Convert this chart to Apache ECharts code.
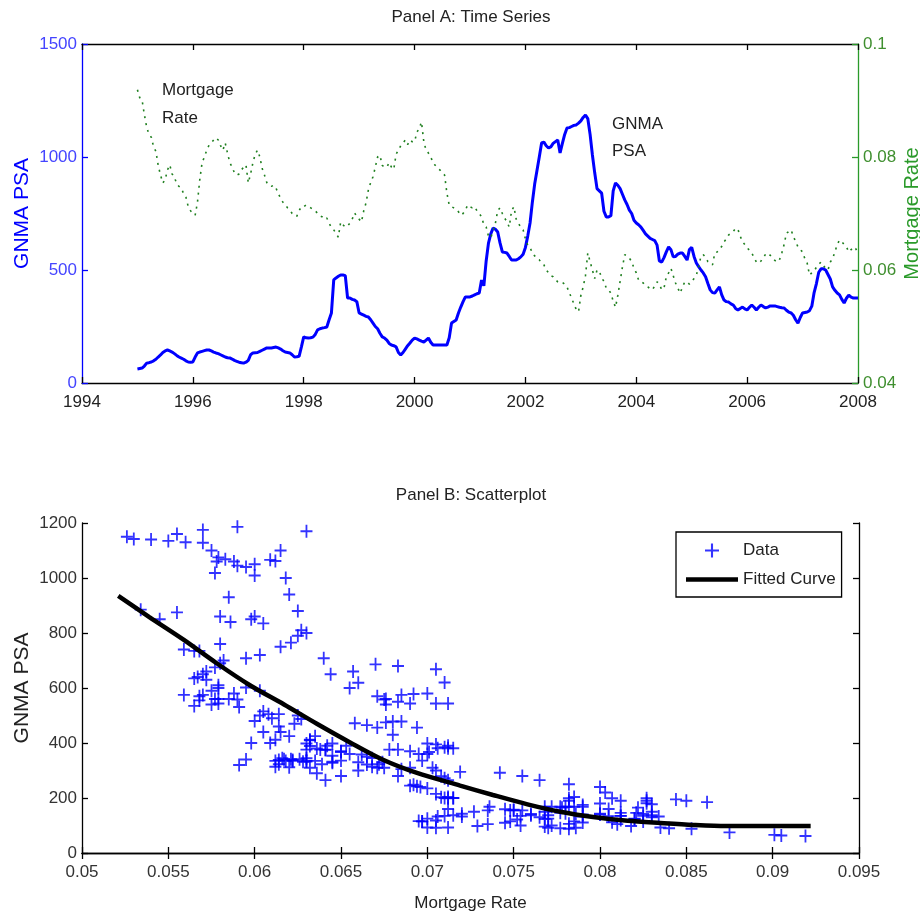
<!DOCTYPE html>
<html>
<head>
<meta charset="utf-8">
<script src="https://cdn.jsdelivr.net/npm/echarts@6/dist/echarts.min.js"></script>
<style>
  html, body { margin: 0; background: #fff; }
  #chart { width: 920px; height: 915px; }
</style>
</head>
<body>
<div id="chart"></div>
<script>
// half-monthly observations, Jan 1995 .. Jan 2008
const startYear = 1995;
const stepYears = 1 / 24;
const psa = [
  62, 64, 66, 75, 88, 90, 93, 98, 105, 115, 124, 135, 142, 146, 142, 137, 130, 122, 115, 110, 105, 98, 93, 92,
  93, 115, 133, 137, 140, 143, 146, 146, 142, 137, 133, 130, 125, 120, 115, 112, 111, 106, 100, 96, 92, 90, 88, 92,
  100, 125, 133, 134, 135, 140, 145, 150, 155, 155, 155, 157, 159, 155, 150, 143, 137, 135, 133, 125, 115, 116, 118, 160,
  204, 200, 199, 200, 203, 215, 235, 240, 243, 245, 248, 280, 310, 456, 465, 472, 478, 478, 475, 376, 376, 370, 367, 360,
  310, 305, 300, 295, 292, 280, 265, 250, 240, 220, 204, 199, 190, 175, 168, 165, 160, 135, 124, 135, 150, 165, 177, 190,
  199, 195, 190, 185, 181, 190, 199, 180, 168, 168, 168, 168, 168, 168, 168, 200, 265, 272, 279, 310, 336, 360, 381, 381,
  381, 385, 390, 395, 398, 456, 430, 540, 619, 660, 686, 680, 668, 620, 580, 578, 575, 560, 544, 544, 544, 550, 558, 570,
  600, 650, 708, 800, 880, 940, 1000, 1062, 1066, 1050, 1040, 1045, 1060, 1068, 1075, 1018, 1060, 1100, 1128, 1130, 1135, 1140, 1142, 1150,
  1160, 1175, 1186, 1170, 1100, 1009, 930, 860, 850, 840, 760, 735, 735, 740, 850, 885, 875, 860, 835, 810, 790, 765, 750, 720,
  708, 700, 690, 675, 660, 650, 640, 635, 630, 610, 540, 535, 555, 580, 602, 590, 558, 560, 570, 575, 575, 560, 544, 590,
  600, 560, 531, 515, 500, 487, 470, 440, 412, 400, 398, 412, 425, 390, 367, 360, 358, 350, 345, 330, 323, 330, 336, 328,
  323, 335, 345, 335, 323, 335, 345, 338, 332, 336, 341, 341, 341, 338, 335, 333, 332, 322, 314, 310, 300, 280, 265, 290,
  310, 312, 314, 320, 340, 400, 440, 490, 505, 505, 500, 480, 460, 425, 410, 398, 390, 370, 354, 375, 389, 380, 376, 376,
  376
];
const rate = [
  0.0919, 0.0905, 0.0901, 0.0875, 0.0853, 0.0840, 0.0835, 0.0818, 0.0810, 0.0785, 0.0768, 0.0754,
  0.0760, 0.0777, 0.0786, 0.0770, 0.0765, 0.0752, 0.0748, 0.0745, 0.0735, 0.0729, 0.0712, 0.0705,
  0.0700, 0.0697, 0.0720, 0.0760, 0.0790, 0.0800, 0.0812, 0.0821, 0.0825, 0.0830, 0.0834, 0.0830,
  0.0820, 0.0812, 0.0825, 0.0807, 0.0790, 0.0782, 0.0772, 0.0768, 0.0770, 0.0777, 0.0782, 0.0786,
  0.0754, 0.0770, 0.0790, 0.0805, 0.0812, 0.0800, 0.0780, 0.0768, 0.0755, 0.0750, 0.0748, 0.0750,
  0.0745, 0.0735, 0.0727, 0.0720, 0.0715, 0.0710, 0.0706, 0.0700, 0.0697, 0.0695, 0.0705, 0.0712,
  0.0712, 0.0715, 0.0712, 0.0710, 0.0708, 0.0705, 0.0700, 0.0696, 0.0694, 0.0690, 0.0692, 0.0683,
  0.0675, 0.0671, 0.0665, 0.0658, 0.0685, 0.0680, 0.0676, 0.0678, 0.0683, 0.0690, 0.0701, 0.0695,
  0.0690, 0.0685, 0.0705, 0.0719, 0.0742, 0.0755, 0.0765, 0.0782, 0.0800, 0.0803, 0.0785, 0.0782,
  0.0782, 0.0790, 0.0782, 0.0778, 0.0805, 0.0812, 0.0820, 0.0825, 0.0830, 0.0822, 0.0830, 0.0827,
  0.0827, 0.0844, 0.0850, 0.0862, 0.0827, 0.0812, 0.0807, 0.0800, 0.0790, 0.0785, 0.0780, 0.0777,
  0.0772, 0.0768, 0.0736, 0.0715, 0.0712, 0.0710, 0.0708, 0.0703, 0.0697, 0.0700, 0.0706, 0.0715,
  0.0712, 0.0710, 0.0712, 0.0705, 0.0700, 0.0694, 0.0680, 0.0676, 0.0660, 0.0657, 0.0670, 0.0683,
  0.0705, 0.0710, 0.0700, 0.0692, 0.0685, 0.0676, 0.0705, 0.0712, 0.0690, 0.0683, 0.0675, 0.0671,
  0.0655, 0.0644, 0.0640, 0.0630, 0.0625, 0.0620, 0.0618, 0.0612, 0.0609, 0.0600, 0.0595, 0.0590,
  0.0588, 0.0583, 0.0579, 0.0577, 0.0578, 0.0575, 0.0570, 0.0560, 0.0550, 0.0540, 0.0530, 0.0526,
  0.0555, 0.0570, 0.0590, 0.0630, 0.0615, 0.0600, 0.0585, 0.0600, 0.0598, 0.0586, 0.0580, 0.0568,
  0.0565, 0.0559, 0.0545, 0.0534, 0.0555, 0.0580, 0.0605, 0.0627, 0.0625, 0.0621, 0.0615, 0.0603,
  0.0595, 0.0582, 0.0580, 0.0577, 0.0572, 0.0570, 0.0567, 0.0565, 0.0572, 0.0579, 0.0575, 0.0565,
  0.0568, 0.0588, 0.0595, 0.0603, 0.0590, 0.0577, 0.0568, 0.0559, 0.0570, 0.0579, 0.0579, 0.0575,
  0.0579, 0.0585, 0.0591, 0.0605, 0.0625, 0.0627, 0.0623, 0.0615, 0.0612, 0.0609, 0.0630, 0.0632,
  0.0635, 0.0642, 0.0650, 0.0655, 0.0662, 0.0665, 0.0668, 0.0674, 0.0672, 0.0660, 0.0650, 0.0645,
  0.0639, 0.0635, 0.0630, 0.0622, 0.0614, 0.0612, 0.0616, 0.0622, 0.0628, 0.0630, 0.0626, 0.0621,
  0.0617, 0.0614, 0.0618, 0.0630, 0.0645, 0.0665, 0.0668, 0.0671, 0.0660, 0.0650, 0.0641, 0.0636,
  0.0632, 0.0620, 0.0612, 0.0591, 0.0595, 0.0598, 0.0605, 0.0610, 0.0614, 0.0608, 0.0603, 0.0600,
  0.0614, 0.0620, 0.0632, 0.0645, 0.0653, 0.0650, 0.0645, 0.0641, 0.0632, 0.0636, 0.0641, 0.0638,
  0.0630
];
// fitted curve
const fitRate = [0.0521, 0.0539, 0.0559, 0.0578, 0.0597, 0.0617, 0.0636, 0.0655, 0.0674, 0.0694, 0.0719,
                 0.0738, 0.0758, 0.0777, 0.0796, 0.0816, 0.0835, 0.0854, 0.0873, 0.0893, 0.0922];
const fitPsa = [935, 858, 775, 690, 611, 540, 470, 403, 340, 291, 245,
                211, 177, 150, 131, 117, 109, 102, 98, 98, 98];

const dates = psa.map((_, i) => startYear + i * stepYears);

const SANS = "'Liberation Sans', Arial, sans-serif";
const BLUE = '#0000ff';
const GREEN = '#2a9a2a';
const INK = '#222';
const PLUS = 'path://M5.1,0H6.9V5.1H12V6.9H6.9V12H5.1V6.9H0V5.1H5.1Z';
const BAR = 'path://M0,0H52V4.5H0Z';
const plain = v => String(v);

const chart = echarts.init(document.getElementById('chart'), null, { renderer: 'canvas' });

function tickAxis(grid, pos, min, max, interval, color) {
  return {
    type: 'value', gridIndex: grid, position: pos, min: min, max: max, interval: interval,
    axisLine: { show: true, lineStyle: { color: color, width: 1.3 } },
    axisTick: { show: true, inside: true, length: 6, lineStyle: { color: color, width: 1.3 } },
    axisLabel: { show: false },
    splitLine: { show: false }
  };
}

const option = {
  animation: false,
  backgroundColor: '#fff',
  grid: [
    { left: 82, right: 62, top: 44, height: 339, containLabel: false, outerBoundsMode: 'none' },
    { left: 82, right: 61, top: 523, height: 330, containLabel: false, outerBoundsMode: 'none' }
  ],
  xAxis: [
    {
      type: 'value', gridIndex: 0, min: 1994, max: 2008, interval: 2,
      axisLine: { lineStyle: { color: '#000', width: 1.3 } },
      axisTick: { inside: true, length: 6, lineStyle: { color: '#000', width: 1.3 } },
      axisLabel: { color: INK, fontFamily: SANS, fontSize: 17, margin: 11, formatter: plain },
      splitLine: { show: false }
    },
    tickAxis(0, 'top', 1994, 2008, 2, '#000'),
    {
      type: 'value', gridIndex: 1, min: 0.05, max: 0.095, interval: 0.005,
      name: 'Mortgage Rate', nameLocation: 'middle', nameGap: 42, nameMoveOverlap: false,
      nameTextStyle: { color: INK, fontFamily: SANS, fontSize: 17 },
      axisLine: { lineStyle: { color: '#000', width: 1.3 } },
      axisTick: { inside: true, length: 6, lineStyle: { color: '#000', width: 1.3 } },
      axisLabel: { color: '#333', fontFamily: SANS, fontSize: 17, margin: 11 },
      splitLine: { show: false }
    },
    tickAxis(1, 'top', 0.05, 0.095, 0.005, '#000')
  ],
  yAxis: [
    {
      type: 'value', gridIndex: 0, position: 'left', min: 0, max: 1500, interval: 500,
      name: 'GNMA PSA', nameLocation: 'middle', nameGap: 49, nameRotate: 90, nameMoveOverlap: false,
      nameTextStyle: { color: BLUE, fontFamily: SANS, fontSize: 21 },
      axisLine: { show: true, lineStyle: { color: BLUE, width: 1.3 } },
      axisTick: { show: true, inside: true, length: 6, lineStyle: { color: BLUE, width: 1.3 } },
      axisLabel: { color: '#4444ff', fontFamily: SANS, fontSize: 17, margin: 5, formatter: plain },
      splitLine: { show: false }
    },
    {
      type: 'value', gridIndex: 0, position: 'right', min: 0.04, max: 0.1, interval: 0.02,
      name: 'Mortgage Rate', nameLocation: 'middle', nameGap: 44, nameRotate: 90, nameMoveOverlap: false,
      nameTextStyle: { color: GREEN, fontFamily: SANS, fontSize: 20 },
      axisLine: { show: true, lineStyle: { color: GREEN, width: 1.3 } },
      axisTick: { show: true, inside: true, length: 6, lineStyle: { color: GREEN, width: 1.3 } },
      axisLabel: { color: '#3f8f2f', fontFamily: SANS, fontSize: 17, margin: 5 },
      splitLine: { show: false }
    },
    {
      type: 'value', gridIndex: 1, position: 'left', min: 0, max: 1200, interval: 200,
      name: 'GNMA PSA', nameLocation: 'middle', nameGap: 49, nameRotate: 90, nameMoveOverlap: false,
      nameTextStyle: { color: INK, fontFamily: SANS, fontSize: 21 },
      axisLine: { show: true, lineStyle: { color: '#000', width: 1.3 } },
      axisTick: { show: true, inside: true, length: 6, lineStyle: { color: '#000', width: 1.3 } },
      axisLabel: { color: '#333', fontFamily: SANS, fontSize: 17, margin: 5, formatter: plain },
      splitLine: { show: false }
    },
    tickAxis(1, 'right', 0, 1200, 200, '#000')
  ],
  legend: {
    data: [
      { name: 'Data', icon: PLUS },
      { name: 'Fitted Curve', icon: BAR, itemStyle: { color: '#000' } }
    ],
    orient: 'vertical',
    left: 676, top: 532,
    padding: [10, 6, 9, 10],
    itemGap: 12,
    itemWidth: 52, itemHeight: 14,
    symbolKeepAspect: true,
    backgroundColor: '#fff',
    borderColor: '#000', borderWidth: 1.3, borderRadius: 0,
    textStyle: { color: INK, fontFamily: SANS, fontSize: 17 }
  },
  graphic: [
    { type: 'text', x: 471, y: 9, style: { text: 'Panel A: Time Series', fill: INK, font: '17px ' + SANS, textAlign: 'center', textVerticalAlign: 'top' } },
    { type: 'text', x: 471, y: 487, style: { text: 'Panel B: Scatterplot', fill: INK, font: '17px ' + SANS, textAlign: 'center', textVerticalAlign: 'top' } },
    { type: 'text', x: 162, y: 76, style: { text: 'Mortgage\nRate', fill: INK, font: '17px ' + SANS, lineHeight: 28 } },
    { type: 'text', x: 612, y: 111, style: { text: 'GNMA\nPSA', fill: INK, font: '17px ' + SANS, lineHeight: 27 } }
  ],
  series: [
    {
      name: 'GNMA PSA', type: 'line', xAxisIndex: 0, yAxisIndex: 0,
      data: dates.map((d, i) => [d, psa[i]]),
      showSymbol: false, symbol: 'none',
      lineStyle: { color: BLUE, width: 3 }
    },
    {
      name: 'Rate', type: 'line', xAxisIndex: 0, yAxisIndex: 1,
      data: dates.map((d, i) => [d, rate[i]]),
      showSymbol: false, symbol: 'none',
      lineStyle: { color: '#1f7f1f', width: 1.6, type: [2, 5] }
    },
    {
      name: 'Data', type: 'scatter', xAxisIndex: 2, yAxisIndex: 2,
      data: rate.map((r, i) => [r, psa[i]]),
      symbol: PLUS, symbolSize: [12, 13],
      itemStyle: { color: BLUE }
    },
    {
      name: 'Fitted Curve', type: 'line', xAxisIndex: 2, yAxisIndex: 2,
      data: fitRate.map((r, i) => [r, fitPsa[i]]),
      smooth: 0.3, showSymbol: false, symbol: 'none',
      itemStyle: { color: '#000' },
      lineStyle: { color: '#000', width: 4.5 }
    }
  ]
};

chart.setOption(option);
window.addEventListener('resize', chart.resize);
</script>
</body>
</html>
